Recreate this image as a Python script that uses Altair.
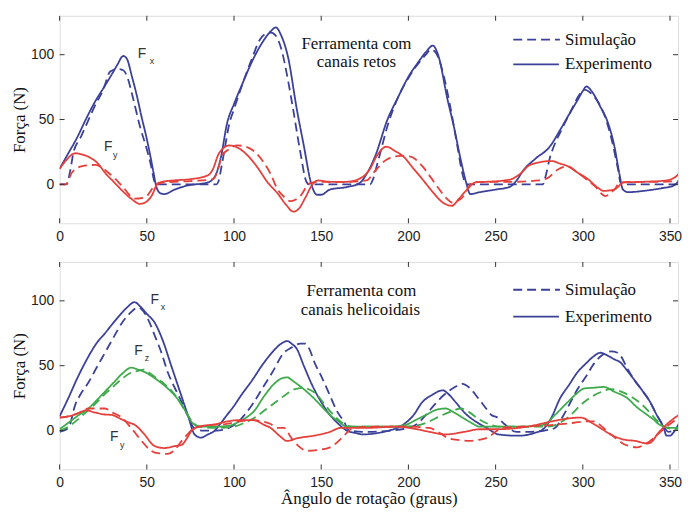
import altair as alt
import pandas as pd

# ---------------- data (angle in degrees, force in N) ----------------
X_TICKS = [0, 50, 100, 150, 200, 250, 300, 350]
Y_TICKS = [0, 50, 100]

TOP_FX_EXP = [(0,12),(5,24),(10,36),(15,50),(20,63),(25,74),(30,85),(33,92),(36.5,99),(38.5,97),
              (41.5,83),(44,70),(47,52),(50,35),(52,22),(54,8),(55.5,-2),(58,-7),(60,-7.5),(66,-4),
              (73,-1),(85,1.5),(89,6),(92.5,21),(96,47),(100,62),(104,75),(111.5,98),(117,111),(121,118),
              (124,121),(127,115),(131,98),(136,58),(140,30),(144,2),(147.5,-8),(150,-8),(155,-4),(165,-2),
              (172,1),(176,8),(181,22),(188,50),(194,67),(200,83),(205,93),(210,102),(214,107),(217,100),
              (222.5,65),(226,45),(230,19),(233,2),(235.5,-7.5),(241,-6),(250,-4),(258,-2),(262,3),(266,11),
              (273,20),(281,29),(287,42),(293,56),(297,65),(300,72),(302,75.5),(305,72),(310,60),(314,49),
              (318,30),(321,8),(323,-4),(326,-6),(335,-5),(345,-3),(352,-1),(356,5),(360,18)]
TOP_FX_SIM = [(0,0),(4,0),(6,10),(8,25),(12,36),(16,48),(20,60),(25,73),(29,87),(33,89),(36.5,88),
              (39,82),(42,67),(46,45),(50,27),(52.5,14),(54,4),(55,0),(70,0),(90,0),(91,2),(93,15),(95,30),
              (97,45),(100,58),(105,78),(110,96),(115,112),(118,116),(121,117),(123,116),(127,105),(131,80),
              (134,57),(138,25),(141.5,2),(143,0),(178,0),(180,5),(182,15),(184,25),(188,45),(194,67),(200,82),
              (205,92),(210,100),(213,104),(216,101),(220,85),(224,60),(228,30),(231,8),(233,0),(277,0),(279,8),
              (281,20),(283,28),(287,40),(293,56),(298,69),(301,73),(304,71),(308,65),(311,58),(314,47),(317,32),
              (320,13),(322,0),(354,0),(357,5),(360,18)]
TOP_FY_EXP = [(0,12),(4,19),(9,24),(13,23),(17,21),(22,16),(26,9),(31,2),(36,-5),(41,-11),(46,-15),
              (49,-14),(52.7,-9),(56.5,1),(59,2),(65,3),(75,4),(85,7),(88,12),(91,23),(94,28),(97,30),
              (101,29),(108,22),(114,12),(119,2),(125,-7),(130,-16),(134,-21),(137,-19),(141,-10),(145,0),
              (148,3),(155,2),(165,2),(174,6),(178,12),(181.7,21.6),(187.4,29),(192,26),(197,21.6),(203,12),
              (208,4),(214,-6),(219.7,-14),(225,-16.5),(229,-11),(233,-5),(238.5,1.5),(245,2),(255,3),(259,4),
              (264,8),(268.6,14),(275,17),(282,18),(287,16),(291.4,14),(297,9),(303,4),(308,-2),(312,-5),
              (318,-4),(323.6,1.5),(335,2),(348,3),(355.7,9),(360,19)]
TOP_FY_SIM = [(0,0),(3.5,0),(7,9),(13,14),(20.5,15),(28,9),(35.7,-1),(43,-11),(49,-10),(54.6,-1),(60,1.5),
              (75,2.5),(88,4),(90.5,10),(93,22),(97,27),(102,30),(107,29),(112,25),(117,17),(121,8),(125,-4),
              (129,-10),(132.5,-13),(138,-9),(143.5,1),(150,2),(165,2),(176,3),(180,9),(187.4,19),(195,22),
              (200.7,21.6),(208,14),(213,5),(217.8,-4),(222,-11),(225,-14),(231,-10),(236.8,1.5),(245,2),(260,2),
              (275,3),(280,5),(285.7,11.5),(291.4,14),(297,9),(302,4),(306.6,-1),(313,-9),(318,-4),(321.6,1.5),
              (330,2),(345,2),(360,3)]

BOT_FX_EXP = [(0,11),(5,25),(10,40),(16.5,57),(21,67),(26,75),(32,85),(38,94),(43,99),(46,96),(50,90),
              (54.6,83),(59,70),(64,50),(69,30),(73.5,12),(77.4,-3),(81,-5.5),(85,-3),(89,0),(92,5),(96,12),
              (100,19),(104,27),(110,38),(117,52),(123,62),(127,67),(130.5,69),(133,67),(136,63),(140,50),
              (145.7,32.5),(150,22),(155,12),(160,5),(164.6,0),(170,-2),(174,-3),(182,-2),(189,0),(197,4.5),
              (203,12),(208,22),(213,27),(219.7,31),(223,28),(227,22),(232,14),(238.5,7),(245,2),(251.6,-3),
              (263,-4),(272,-2),(278,2),(282,10),(287,25),(292,35),(297,45),(302,52),(306,57),(310,60),(314,58),
              (318,55),(321.6,52.5),(325,47),(329,40),(334,31),(338.6,22),(342,13),(346.4,2),(348,-4),(350,-4),
              (352,-1.5),(355,5),(358,12),(360,15)]
BOT_FX_SIM = [(0,-1),(5,2),(9,20),(12,28),(16.5,37),(21,48),(26,60),(31,72),(35.7,83),(40,90),(45,95),
              (48,92),(51,85),(54.6,73),(58.4,60),(62,45),(66,33),(70,22),(74,10),(77,2),(82,0),(90,0),(97,2),
              (102,6),(106,12),(111,21),(116,32),(122,45),(128.6,60),(133,64),(138,67),(141,67),(143.5,62),
              (146,53),(150,42),(155,27),(159,15),(163,7),(166,0),(175,-1),(190,0),(200,2),(205,5),(210,12),
              (215,20),(220,27),(226,33),(231,36),(235,33),(240,25),(244,18),(247.6,12),(251,10),(255,5),(262,-1),
              (270,-1),(278,0),(284,2),(289,12),(293,22),(297,32),(302,42),(306.6,52),(311,58),(316,61),(320,60),
              (322,57),(325.5,48),(329,40),(334,31),(338.6,22),(342,13),(346,4),(349,-1),(352,0),(356,5),(360,12)]
BOT_FZ_EXP = [(0,1),(5,6),(10,11),(16.5,17),(21,23),(26,30),(31,37),(36,44),(41,48.5),(45,47),(49,45),
              (52.7,42),(57,38),(62,32.5),(66,27),(70,20),(73,13),(75.5,7),(78,4),(81,3),(90,3),(98,4),(103,7),
              (107,10),(111.5,15),(117,26),(123,36),(127,40),(130.5,41),(134,38),(139,33),(145.7,25),(150,19),
              (155,12),(160,7),(164.6,3),(175,3),(190,3),(198.6,4.5),(204,8),(210,12),(216,16),(221.5,17),
              (226,14),(231,10),(236,6),(241,3),(253,3),(265,3),(278,4.5),(284,12),(291.4,22),(296,28),
              (301,32.5),(306,33),(312,33.6),(318,30),(325.5,25),(331,18),(337,12),(341,8),(344,4.5),(351,2),
              (360,2)]
BOT_FZ_SIM = [(0,0),(5,3),(10,8),(15,14),(20,20),(25,27),(30,33),(35,39),(40,44),(45,46),(48,47),(52,44),
              (56,40),(60,36),(64,31),(68,24),(72,15),(76,7),(80,3),(90,2),(100,3),(106,6),(112,10),(118,16),
              (124,22),(130,28),(135,32),(140,33),(144,31),(148,27),(152,20),(157,12),(162,6),(168,3),(180,3),
              (195,3),(205,4),(212,7),(218,11),(225,15),(230,17),(235,14),(240,9),(246,5),(252,3),(265,3),
              (280,3),(287,6),(293,12),(299,20),(305,26),(311,30),(316,32),(322,30),(328,26),(334,20),(339,13),
              (343,7),(348,2),(355,1),(360,1)]
BOT_FY_EXP = [(0,10),(5,11),(10,13),(15,15.5),(20,14),(25,12.5),(30,12),(35,9),(40,6),(43,4.5),(48,-2),
              (54.6,-12),(60,-13.5),(66,-12),(70,-11),(73,-6),(75.5,-0.5),(80,3),(90,5),(96,7),(103,8),
              (111.5,8),(117,4.5),(121,2),(126,-4),(130.5,-8),(136,-6),(145.7,-4),(155,-1),(161,2),(175,2),
              (193,3),(205,1),(212,-1),(221.5,-3),(232,-1),(241,1),(250,1),(263,2),(272,4),(282,7),(290,9),
              (299,10),(305,6),(310,2),(316,-3),(323.6,-7),(330,-8),(337,-10),(340,-8),(342.6,-3),(346,2),
              (350,7),(355,12),(360,16)]
BOT_FY_SIM = [(0,10),(5,11),(10,13),(16.5,17),(26,17),(30,14),(35.7,10),(41,2),(47,-8),(51,-14),
              (54.6,-17),(62,-18),(66,-15),(70,-8),(74,-2),(77,2),(85,4),(95,5),(103,7),(110,8),(116,7),
              (121,5),(125,2),(128.6,2),(133,-6),(137,-12),(141.7,-15.6),(148,-15),(155,-13),(160,-8),(163,-4),
              (168.5,2),(180,3),(200,3),(212,2),(218,-2),(223,-6),(227,-7),(235,-8),(241,-7),(246,-5),(250,-1),
              (253,2),(265,3),(280,4),(295,6),(302,7),(306.6,7),(311,3),(316,-3),(320,-7),(323.6,-10.6),
              (327,-12),(331,-13),(335,-11),(338.6,-8),(344.6,-1),(350,5),(355,10),(360,14)]

# component labels: (angle, force, text)
TOP_F_LABELS = [(47.2, 100.8, "F"), (27.9, 29.0, "F")]
TOP_SUB_LABELS = [(52.9, 95.4, "x"), (31.9, 22.9, "y")]
BOT_F_LABELS = [(54.6, 100.8, "F"), (45.2, 61.4, "F"), (31.3, -5.3, "F")]
BOT_SUB_LABELS = [(59.2, 95.5, "x"), (50.1, 56.1, "z"), (35.9, -11.4, "y")]

KINDS = ["Simulação", "Experimento"]
COMPONENTS = ["Fx", "Fy", "Fz"]
BLUE, RED, GREEN = "#3b4199", "#e5403b", "#3faa4c"

# the visible angle window (the original figure is cropped just before 360)
X_DOMAIN = [0, 354.6]
W, H = 623, 209
SERIF = "Liberation Serif"
SANS = "Liberation Sans"


def series_frame(items):
    rows = []
    for comp, kind, pts in items:
        for a, f in pts:
            rows.append({"angle": a, "force": f, "comp": comp, "kind": kind})
    return pd.DataFrame(rows)


def label_frame(items):
    return pd.DataFrame([{"angle": a, "force": f, "t": t} for a, f, t in items])


def panel(items, f_labels, sub_labels, ann_lines, leg, x_title):
    x_axis_kw = dict(values=X_TICKS, ticks=False, domain=False, grid=False, labelFlush=False,
                     labelFont=SANS, labelFontSize=14, labelColor="#222", labelPadding=6)
    if x_title:
        x_axis_kw.update(title=x_title, titleFont=SERIF, titleFontSize=17, titleFontWeight="normal",
                         titleColor="#111", titlePadding=1)
    else:
        x_axis_kw.update(title=None)
    xs = alt.X("angle:Q", scale=alt.Scale(domain=X_DOMAIN, nice=False, zero=False),
               axis=alt.Axis(**x_axis_kw))
    ys = alt.Y("force:Q", scale=alt.Scale(domain=[-30, 130], nice=False, zero=False),
               axis=alt.Axis(values=Y_TICKS, ticks=False, domain=False, grid=False, labelFlush=False,
                             labelFont=SANS, labelFontSize=14, labelColor="#222", labelPadding=6,
                             title="Força (N)", titleFont=SERIF, titleFontSize=17,
                             titleFontWeight="normal", titleColor="#111", titlePadding=2))

    lines = alt.Chart(series_frame(items)).mark_line(strokeWidth=1.8, interpolate="monotone", clip=True).encode(
        x=xs, y=ys,
        color=alt.Color("comp:N", scale=alt.Scale(domain=COMPONENTS, range=[BLUE, RED, GREEN]), legend=None),
        strokeDash=alt.StrokeDash("kind:N", scale=alt.Scale(domain=KINDS, range=[[9, 5], [1, 0]]), legend=None),
    )

    xt = pd.DataFrame({"angle": X_TICKS})
    yt = pd.DataFrame({"force": Y_TICKS})
    tick_style = dict(color="#333", strokeWidth=1)
    ticks = [
        alt.Chart(xt).mark_rule(**tick_style).encode(x=xs, y=alt.value(H), y2=alt.value(H - 5)),
        alt.Chart(xt).mark_rule(**tick_style).encode(x=xs, y=alt.value(0), y2=alt.value(5)),
        alt.Chart(yt).mark_rule(**tick_style).encode(y=ys, x=alt.value(0), x2=alt.value(5)),
        alt.Chart(yt).mark_rule(**tick_style).encode(y=ys, x=alt.value(W), x2=alt.value(W - 5)),
    ]

    flab = alt.Chart(label_frame(f_labels)).mark_text(
        font=SANS, fontSize=14, color="#333", align="center", baseline="middle").encode(x=xs, y=ys, text="t:N")
    slab = alt.Chart(label_frame(sub_labels)).mark_text(
        font=SANS, fontSize=9, color="#333", align="center", baseline="middle").encode(x=xs, y=ys, text="t:N")

    one = pd.DataFrame({"k": [0]})
    texts = []
    for txt, cx, cy in ann_lines:
        texts.append(alt.Chart(one).mark_text(font=SERIF, fontSize=17, color="#111", align="center",
                                               baseline="middle").encode(
            x=alt.value(cx), y=alt.value(cy), text=alt.value(txt)))

    (dy1, dy2) = leg
    legend = [
        alt.Chart(one).mark_rule(color=BLUE, strokeWidth=1.8, strokeDash=[9, 5]).encode(
            x=alt.value(457), x2=alt.value(504), y=alt.value(dy1)),
        alt.Chart(one).mark_rule(color=BLUE, strokeWidth=1.8).encode(
            x=alt.value(457), x2=alt.value(503), y=alt.value(dy2)),
        alt.Chart(one).mark_text(font=SERIF, fontSize=17, color="#111", align="left", baseline="middle").encode(
            x=alt.value(509), y=alt.value(dy1), text=alt.value(KINDS[0])),
        alt.Chart(one).mark_text(font=SERIF, fontSize=17, color="#111", align="left", baseline="middle").encode(
            x=alt.value(509), y=alt.value(dy2), text=alt.value(KINDS[1])),
    ]

    return alt.layer(lines, *ticks, flab, slab, *texts, *legend).properties(width=W, height=H)


top = panel(
    [("Fx", "Simulação", TOP_FX_SIM), ("Fx", "Experimento", TOP_FX_EXP),
     ("Fy", "Simulação", TOP_FY_SIM), ("Fy", "Experimento", TOP_FY_EXP)],
    TOP_F_LABELS, TOP_SUB_LABELS,
    [("Ferramenta com", 299, 28), ("canais retos", 299, 47)],
    (24, 49), None)

bottom = panel(
    [("Fx", "Simulação", BOT_FX_SIM), ("Fx", "Experimento", BOT_FX_EXP),
     ("Fz", "Simulação", BOT_FZ_SIM), ("Fz", "Experimento", BOT_FZ_EXP),
     ("Fy", "Simulação", BOT_FY_SIM), ("Fy", "Experimento", BOT_FY_EXP)],
    BOT_F_LABELS, BOT_SUB_LABELS,
    [("Ferramenta com", 304, 29), ("canais helicoidais", 303, 48)],
    (28, 55), "Ângulo de rotação (graus)")

chart = alt.vconcat(top, bottom, spacing=17).properties(
    padding={"left": 2, "top": 5, "right": 0, "bottom": 0}
).configure_view(stroke="#333", strokeWidth=1.3).configure(background="white")

chart.save("out.html", embed_options={"renderer": "svg", "actions": False})
